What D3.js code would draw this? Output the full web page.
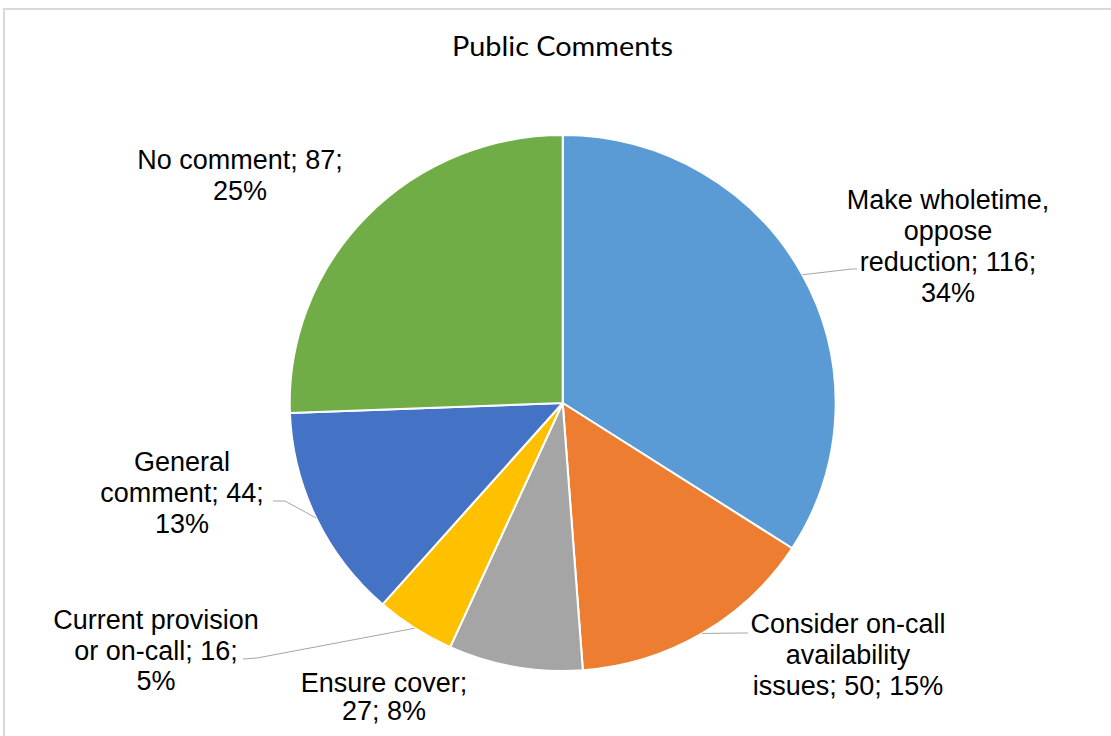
<!DOCTYPE html>
<html>
<head>
<meta charset="utf-8">
<script src="https://cdn.jsdelivr.net/npm/d3@7"></script>
<style>
  html, body { margin: 0; padding: 0; background: #ffffff; }
  svg { display: block; }
</style>
</head>
<body>
<svg id="chart" width="1111" height="736"></svg>
<script>
// Public comments, grouped by theme (clockwise from 12 o'clock)
const categories = [
  "Make wholetime, oppose reduction",
  "Consider on-call availability issues",
  "Ensure cover",
  "Current provision or on-call",
  "General comment",
  "No comment"
];
const counts = [116, 50, 27, 16, 44, 87];
const percentLabels = ["34%", "15%", "8%", "5%", "13%", "25%"];
const colors = ["#5B9BD5", "#ED7D31", "#A5A5A5", "#FFC000", "#4472C4", "#70AD47"];

// Wrapped label lines for each slice
const labelLines = [
  ["Make wholetime,", "oppose", "reduction; 116;", "34%"],
  ["Consider on-call", "availability", "issues; 50; 15%"],
  ["Ensure cover;", "27; 8%"],
  ["Current provision", "or on-call; 16;", "5%"],
  ["General", "comment; 44;", "13%"],
  ["No comment; 87;", "25%"]
];

// Label layout: anchor centre x, first baseline y, line step, leader end (or null)
const labelLayout = [
  { x: 948, y: 209, step: 31, leader: [[852, 269], [857, 269]] },
  { x: 848, y: 633, step: 31, leader: [[744, 633], [748, 633]] },
  { x: 384, y: 692, step: 28, leader: null },
  { x: 156, y: 629, step: 30.5, leader: [[257, 658], [243, 659]] },
  { x: 182, y: 471, step: 31, leader: [[285, 501], [273, 501]] },
  { x: 240, y: 169, step: 31, leader: null }
];

const svg = d3.select("#chart");
const W = 1111, H = 736;

// Chart area border
svg.append("rect")
  .attr("x", 4).attr("y", 9)
  .attr("width", W + 20).attr("height", H + 20)
  .attr("fill", "#ffffff")
  .attr("stroke", "#d9d9d9")
  .attr("stroke-width", 2);

// Title
svg.append("text")
  .attr("x", 562.5).attr("y", 56)
  .attr("text-anchor", "middle")
  .attr("font-family", "Lato, 'Open Sans', sans-serif")
  .attr("font-size", 26)
  .attr("fill", "#000000")
  .attr("textLength", 221)
  .attr("lengthAdjust", "spacingAndGlyphs")
  .text("Public Comments");

// Pie geometry
const cx = 562.7, cy = 403;
const ry = 268, rx = 273;
const sx = rx / ry;

const data = categories.map((c, i) => ({ name: c, value: counts[i], color: colors[i], i }));
const pie = d3.pie().value(d => d.value).sort(null);
const arcs = pie(data);
const arc = d3.arc().innerRadius(0).outerRadius(ry);

const g = svg.append("g")
  .attr("transform", `translate(${cx},${cy}) scale(${sx},1)`);

g.selectAll("path.slice")
  .data(arcs)
  .join("path")
  .attr("class", "slice")
  .attr("d", arc)
  .attr("fill", d => d.data.color)
  .attr("stroke", "#ffffff")
  .attr("stroke-width", 2)
  .attr("stroke-linejoin", "round");

// Leader lines from slice edge (mid-angle) to label
const edgePoint = a => {
  const m = (a.startAngle + a.endAngle) / 2;
  return [cx + rx * Math.sin(m), cy - ry * Math.cos(m)];
};

arcs.forEach((a, i) => {
  const L = labelLayout[i];
  if (!L.leader) return;
  const pts = [edgePoint(a)].concat(L.leader);
  svg.append("path")
    .attr("d", d3.line()(pts))
    .attr("fill", "none")
    .attr("stroke", "#a6a6a6")
    .attr("stroke-width", 1);
});

// Data labels
arcs.forEach((a, i) => {
  const L = labelLayout[i];
  const t = svg.append("text")
    .attr("text-anchor", "middle")
    .attr("font-family", "'Liberation Sans', Arial, sans-serif")
    .attr("font-size", 27)
    .attr("fill", "#000000");
  labelLines[i].forEach((line, k) => {
    t.append("tspan")
      .attr("x", L.x)
      .attr("y", L.y + k * L.step)
      .text(line);
  });
});
</script>
</body>
</html>
